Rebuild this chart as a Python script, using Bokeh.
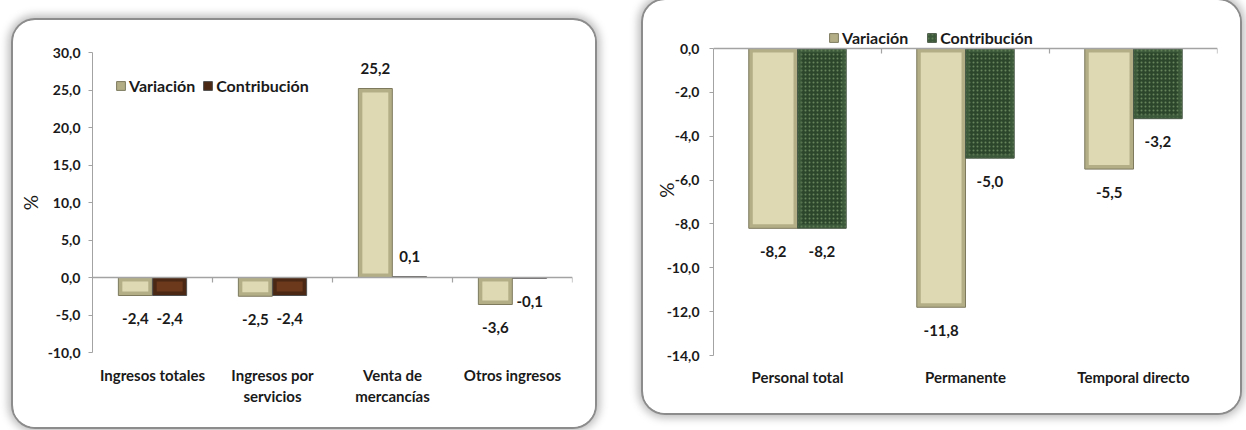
from bokeh.plotting import figure
from bokeh.layouts import row, column
from bokeh.models import (Range1d, FixedTicker, CustomJSTickFormatter, Legend,
                          LegendItem, Span, ColumnDataSource, Spacer)
from bokeh.core.properties import value
from bokeh.embed import file_html
from bokeh.resources import INLINE

# ---------------- data ----------------
left_categories = ["Ingresos totales", "Ingresos por servicios",
                   "Venta de mercancías", "Otros ingresos"]
left_tick_labels = ["Ingresos totales", "Ingresos por\nservicios",
                    "Venta de\nmercancías", "Otros ingresos"]
left_variacion = [-2.4, -2.5, 25.2, -3.6]
left_contribucion = [-2.4, -2.4, 0.1, -0.1]

right_categories = ["Personal total", "Permanente", "Temporal directo"]
right_tick_labels = ["Personal total", "Permanente", "Temporal directo"]
right_variacion = [-8.2, -11.8, -5.5]
right_contribucion = [-8.2, -5.0, -3.2]

series_names = ["Variación", "Contribución"]

FONT = "Lato"
TXT = "#1a1a1a"
AXIS = "#a3a3a3"

VAR_STYLE = dict(edge="#b3ae86", face="#dfd9b3", outline="#7d7a5e")
BROWN_STYLE = dict(edge="#4a2814", face="#6d391c", outline="#4f4f4f")
GREEN_STYLE = dict(edge="#3c5a3a", face="#2c462c", outline="#4a5a48",
                   hatch="#6d8c60")

BOX_CSS = {"border-radius": "22px",
           "box-shadow": "0 0 0 2px #8c8c8c, 0 0 9px 5px #bdbdbd",
           "overflow": "hidden"}


def fmt(v):
    return f"{v:.1f}".replace(".", ",")


def make_panel(categories, tick_labels, variacion, contribucion, y_min, y_max,
               y_step, con_style, width, height, bl, br, bt, bb, top_pad,
               legend_xy, legend_spacing, bar_w, off, tick_standoff,
               label_standoff, axis_label_standoff):
    n = len(categories)
    fw = width - bl - br
    fh = height - bt - bb
    pxx = fw / n
    pxy = (fh - top_pad) / (y_max - y_min)
    y_top = y_max + top_pad / pxy

    p = figure(width=width, height=height, output_backend="svg",
               toolbar_location=None, x_range=Range1d(-0.5, n - 0.5),
               y_range=Range1d(y_min, y_top), min_border_left=bl,
               min_border_right=br, min_border_top=bt, min_border_bottom=bb,
               background_fill_color="white", border_fill_color="white",
               outline_line_color=None, styles=BOX_CSS)
    p.grid.visible = False

    bx = 4.0 / pxx
    by = 4.0 / pxy

    xs = list(range(n))
    x_var = [i - off for i in xs]
    x_con = [i + off for i in xs]

    renderers = []
    for xv, vals, st in ((x_var, variacion, VAR_STYLE), (x_con, contribucion, con_style)):
        outer = p.vbar(x=xv, top=vals, bottom=0, width=bar_w,
                       fill_color=st["edge"], line_color=st["outline"], line_width=1)
        ix, it, ib = [], [], []
        for x, v in zip(xv, vals):
            if abs(v) > 2.5 * by:
                s = 1 if v > 0 else -1
                ix.append(x)
                it.append(v - s * by)
                ib.append(s * by)
        inner_kw = dict(fill_color=st["face"], line_color=None)
        if "hatch" in st:
            inner_kw.update(hatch_pattern="dot", hatch_color=st["hatch"],
                            hatch_scale=4, hatch_weight=1.2, hatch_alpha=0.9)
            outer.glyph.hatch_pattern = "dot"
            outer.glyph.hatch_color = st["hatch"]
            outer.glyph.hatch_scale = 4
            outer.glyph.hatch_alpha = 0.7
        p.vbar(x=ix, top=it, bottom=ib, width=bar_w - 2 * bx, **inner_kw)
        renderers.append(outer)

        src = ColumnDataSource(dict(x=xv, y=vals, t=[fmt(v) for v in vals],
                                    yo=[-20 if v >= 0 else 23 for v in vals]))
        p.text(x="x", y="y", text="t", y_offset="yo", source=src,
               text_align="center", text_baseline="middle",
               text_font=value(FONT), text_font_style="bold",
               text_font_size="15px", text_color=TXT)

    # zero line and category boundary ticks on it
    p.add_layout(Span(location=0, dimension="width", line_color=AXIS, line_width=1.5))
    bnd = [i + 0.5 for i in xs]
    p.segment(x0=bnd, x1=bnd, y0=[0] * n, y1=[-5.0 / pxy] * n,
              line_color=AXIS, line_width=1.2)

    # axes
    ya = p.yaxis[0]
    ya.bounds = (y_min, y_max)
    ya.ticker = FixedTicker(ticks=[y_min + k * y_step
                                   for k in range(int(round((y_max - y_min) / y_step)) + 1)])
    ya.formatter = CustomJSTickFormatter(code="return tick.toFixed(1).replace('.', ',');")
    ya.axis_line_color = AXIS
    ya.major_tick_line_color = AXIS
    ya.major_tick_out = 4
    ya.major_tick_in = 0
    ya.minor_tick_line_color = None
    ya.major_label_standoff = tick_standoff
    ya.major_label_text_font = FONT
    ya.major_label_text_font_style = "bold"
    ya.major_label_text_font_size = "14px"
    ya.major_label_text_color = TXT
    ya.axis_label = "%"
    ya.axis_label_text_font = FONT
    ya.axis_label_text_font_style = "normal"
    ya.axis_label_text_font_size = "19px"
    ya.axis_label_text_color = TXT
    ya.axis_label_standoff = axis_label_standoff

    xa = p.xaxis[0]
    xa.ticker = FixedTicker(ticks=xs)
    xa.major_label_overrides = {i: lab for i, lab in zip(xs, tick_labels)}
    xa.axis_line_color = None
    xa.major_tick_line_color = None
    xa.minor_tick_line_color = None
    xa.major_label_standoff = label_standoff
    xa.major_label_text_font = FONT
    xa.major_label_text_font_style = "bold"
    xa.major_label_text_font_size = "15px"
    xa.major_label_text_color = TXT

    legend = Legend(items=[LegendItem(label=series_names[0], renderers=[renderers[0]]),
                           LegendItem(label=series_names[1], renderers=[renderers[1]])],
                    location=legend_xy, orientation="horizontal",
                    background_fill_alpha=0, border_line_color=None,
                    padding=0, margin=0, spacing=legend_spacing,
                    glyph_width=11, glyph_height=11, label_standoff=3,
                    label_height=20, label_text_font=FONT,
                    label_text_font_style="bold", label_text_font_size="16px",
                    label_text_color=TXT)
    p.add_layout(legend)
    return p


left = make_panel(left_categories, left_tick_labels, left_variacion,
                  left_contribucion, -10, 30, 5, BROWN_STYLE,
                  width=582, height=407, bl=79, br=23, bt=32, bb=75, top_pad=0,
                  legend_xy=(23, 257), legend_spacing=7, bar_w=0.283, off=0.143,
                  tick_standoff=8, label_standoff=7, axis_label_standoff=3)

right = make_panel(right_categories, right_tick_labels, right_variacion,
                   right_contribucion, -14, 0, 2, GREEN_STYLE,
                   width=597, height=413, bl=70, br=23, bt=24, bb=58, top_pad=24,
                   legend_xy=(115, 308), legend_spacing=18, bar_w=0.29, off=0.145,
                   tick_standoff=10, label_standoff=6, axis_label_standoff=-14)

layout = row(Spacer(width=13, height=1),
             column(Spacer(width=1, height=20), left),
             Spacer(width=48, height=1),
             right)
open("out.html", "w").write(file_html(layout, INLINE))
